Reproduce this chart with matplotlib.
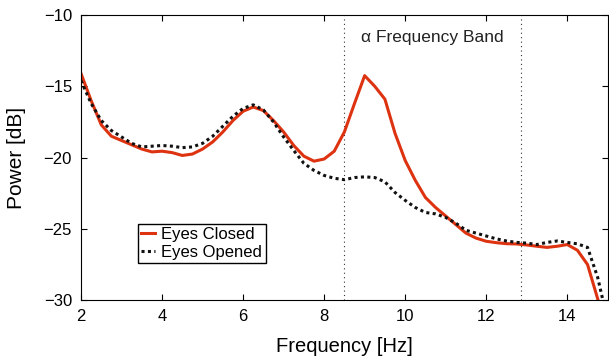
import matplotlib
matplotlib.use('Agg')
import matplotlib.pyplot as plt

plt.rcParams['font.family'] = ['Liberation Sans', 'DejaVu Sans']

freq = [2, 2.25, 2.5, 2.75, 3, 3.25, 3.5, 3.75, 4, 4.25, 4.5, 4.75, 5, 5.25, 5.5,
        5.75, 6, 6.25, 6.5, 6.75, 7, 7.25, 7.5, 7.75, 8, 8.25, 8.5, 8.75, 9, 9.25,
        9.5, 9.75, 10, 10.25, 10.5, 10.75, 11, 11.25, 11.5, 11.75, 12, 12.25, 12.5,
        12.75, 13, 13.25, 13.5, 13.75, 14, 14.25, 14.5, 14.75, 15]

eyes_closed = [-14.1, -16.0, -17.7, -18.5, -18.8, -19.1, -19.4, -19.6, -19.55, -19.65,
               -19.85, -19.75, -19.4, -18.9, -18.2, -17.4, -16.75, -16.45, -16.7, -17.4,
               -18.2, -19.15, -19.9, -20.25, -20.1, -19.55, -18.2, -16.2, -14.25, -15.0,
               -15.9, -18.3, -20.2, -21.6, -22.8, -23.5, -24.1, -24.7, -25.3, -25.65,
               -25.87, -25.97, -26.04, -26.06, -26.13, -26.22, -26.3, -26.22, -26.1,
               -26.5, -27.5, -29.9, -32.5]

eyes_opened = [-14.6, -16.2, -17.4, -18.1, -18.55, -19.0, -19.25, -19.2, -19.15, -19.2,
               -19.3, -19.25, -19.0, -18.5, -17.8, -17.1, -16.55, -16.3, -16.65, -17.5,
               -18.55, -19.5, -20.4, -20.9, -21.25, -21.45, -21.55, -21.4, -21.35, -21.4,
               -21.7, -22.45, -23.0, -23.5, -23.85, -23.95, -24.2, -24.6, -25.1, -25.3,
               -25.5, -25.7, -25.85, -25.95, -26.0, -26.1, -25.95, -25.85, -25.95,
               -26.05, -26.3, -28.4, -31.5]

band = [8.5, 12.85]

fig = plt.figure(figsize=(6.09, 3.59), dpi=100)
ax = fig.add_axes([0.133, 0.164, 0.865, 0.794])

for b in band:
    ax.axvline(b, color='#333333', linestyle=(0, (1, 3)), linewidth=0.8)

ax.plot(freq, eyes_closed, color='#dd3311', linewidth=2.2, label='Eyes Closed')
ax.plot(freq, eyes_opened, color='#111111', linewidth=2.2, linestyle=(0, (1, 1.1)),
        label='Eyes Opened')

ax.text(10.67, -11.6, 'α Frequency Band', ha='center', va='center', fontsize=12.5,
        color='#222222')

ax.set_xlim(2, 15)
ax.set_ylim(-30, -10)
ax.set_xticks([2, 4, 6, 8, 10, 12, 14])
ax.set_yticks([-30, -25, -20, -15, -10])
ax.tick_params(direction='in', top=True, right=True, labelsize=12, length=4, pad=6.5)
ax.set_xlabel('Frequency [Hz]', fontsize=14.5, labelpad=9)
ax.set_ylabel('Power [dB]', fontsize=15, labelpad=13)

leg = ax.legend(loc='lower left', bbox_to_anchor=(0.108, 0.13), fontsize=12,
                handlelength=0.85, handletextpad=0.36, borderpad=0.2, labelspacing=0.15,
                fancybox=False, framealpha=1, borderaxespad=0)
leg.get_frame().set_edgecolor('black')
leg.get_frame().set_linewidth(1.0)

fig.savefig('out.png', dpi=100)
